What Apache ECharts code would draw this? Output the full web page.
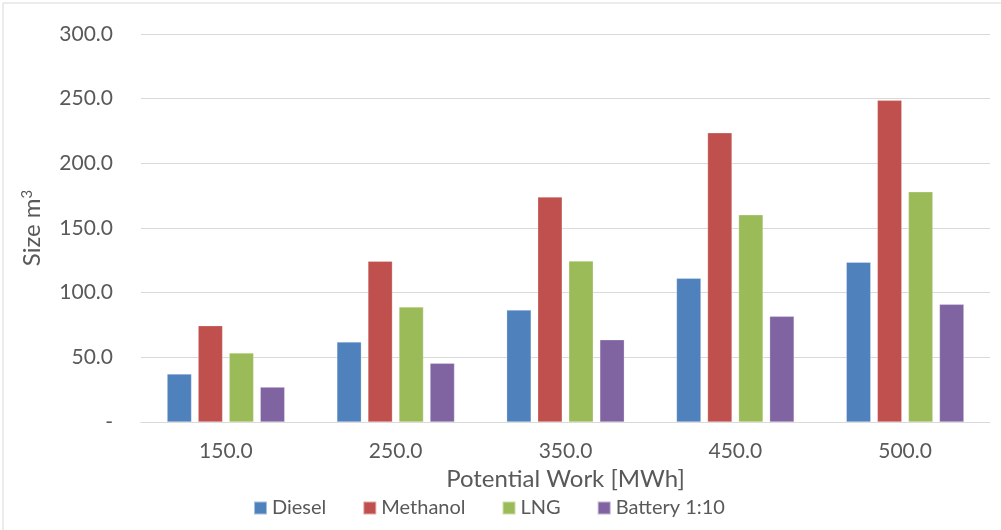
<!DOCTYPE html>
<html>
<head>
<meta charset="utf-8">
<script src="https://cdn.jsdelivr.net/npm/echarts@6/dist/echarts.min.js"></script>
<style>
html,body{margin:0;padding:0;background:#fff;}
#c{width:1001px;height:530px;}
</style>
</head>
<body>
<div id="c"></div>
<script>
const categories = ['150.0', '250.0', '350.0', '450.0', '500.0'];
const diesel = [37.1, 61.9, 86.6, 111.1, 123.5];
const methanol = [74.5, 124.3, 174.0, 223.6, 248.7];
const lng = [53.4, 89.0, 124.5, 160.2, 178.0];
const battery = [27.0, 45.4, 63.6, 81.7, 91.0];
const seriesNames = ['Diesel', 'Methanol', 'LNG', 'Battery 1:10'];
const colors = ['#4f81bd', '#c0504d', '#9bbb59', '#8064a2'];
const yTicks = [0, 50, 100, 150, 200, 250, 300];

const FONT = 'Lato';
const chart = echarts.init(document.getElementById('c'), null, {renderer: 'canvas'});
const allData = [diesel, methanol, lng, battery];
chart.setOption({
  animation: false,
  color: colors,
  textStyle: {fontFamily: FONT, color: '#595959'},
  graphic: [{
    type: 'rect', left: 0.5, top: 0.5,
    shape: {x: 0, y: 0, width: 999, height: 528},
    style: {fill: null, stroke: '#d9d9d9', lineWidth: 1},
    silent: true, z: -1
  }],
  grid: {left: 141, right: 11, top: 34, bottom: 108, containLabel: false},
  legend: {
    bottom: 7, left: 248,
    itemWidth: 13, itemHeight: 13, itemGap: 36,
    icon: 'rect',
    textStyle: {fontFamily: FONT, fontSize: 20, color: '#595959'},
    data: seriesNames
  },
  xAxis: {
    type: 'category',
    data: categories,
    name: 'Potential Work [MWh]',
    nameLocation: 'middle',
    nameGap: 44,
    nameTextStyle: {fontFamily: FONT, fontSize: 24, color: '#595959'},
    axisLine: {show: true, lineStyle: {color: '#d9d9d9', width: 1}},
    axisTick: {show: false},
    axisLabel: {fontFamily: FONT, fontSize: 21, color: '#595959', margin: 19}
  },
  yAxis: {
    type: 'value',
    min: 0, max: 300, interval: 50,
    name: 'Size m{sup|3}',
    nameLocation: 'middle',
    nameGap: 96,
    nameRotate: 90,
    nameTextStyle: {
      fontFamily: FONT, fontSize: 24, color: '#595959',
      rich: {sup: {fontFamily: FONT, fontSize: 15, color: '#595959', verticalAlign: 'bottom', padding: [0, 0, 10, 0]}}
    },
    axisLine: {show: false},
    axisTick: {show: false},
    splitLine: {lineStyle: {color: '#d9d9d9', width: 1}},
    axisLabel: {
      fontFamily: FONT, fontSize: 21, color: '#595959', margin: 28,
      formatter: v => (v === 0 ? '-' : v.toFixed(1))
    }
  },
  series: seriesNames.map((n, i) => ({
    name: n,
    type: 'bar',
    data: allData[i],
    barWidth: '14.4%',
    barGap: '27%',
    itemStyle: {color: colors[i], borderColor: 'rgba(255,255,255,0.5)', borderWidth: 0.5}
  }))
});
</script>
</body>
</html>
